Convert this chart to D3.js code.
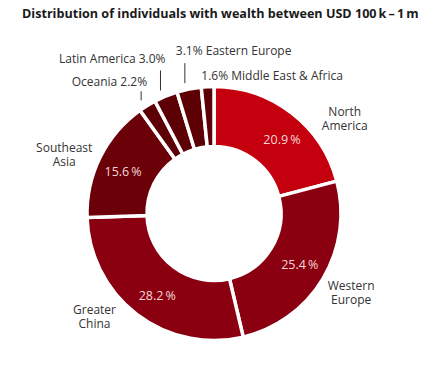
<!DOCTYPE html>
<html>
<head>
<meta charset="utf-8">
<script src="https://cdn.jsdelivr.net/npm/d3@7"></script>
<style>
  body { margin: 0; background: #fff; }
  svg { display: block; font-family: "Open Sans", sans-serif; }
</style>
</head>
<body>
<div id="chart"></div>
<script>
const regions = ["North America", "Western Europe", "Greater China", "Southeast Asia",
                 "Oceania", "Latin America", "Eastern Europe", "Middle East & Africa"];
const shares = [20.9, 25.4, 28.2, 15.6, 2.2, 3.0, 3.1, 1.6];
const labelLines = [["North", "America"], ["Western", "Europe"], ["Greater", "China"], ["Southeast", "Asia"],
                    ["Oceania 2.2%"], ["Latin America 3.0%"], ["3.1% Eastern Europe"], ["1.6% Middle East & Africa"]];
const colors = ["#c4000f", "#8b0010", "#8b0010", "#6b0008", "#5c0005", "#5c0005", "#5c0005", "#5c0005"];

const width = 447, height = 366;
const cx = 214, cy = 213.5;
const outerR = 127, innerR = 67;

const svg = d3.select("#chart").append("svg")
    .attr("width", width)
    .attr("height", height);

svg.append("text")
    .attr("x", 22)
    .attr("y", 18)
    .attr("font-size", 12.6)
    .attr("font-weight", "bold")
    .attr("fill", "#1a1a1a")
    .text("Distribution of individuals with wealth between USD 100\u2009k\u2009\u2013\u20091\u2009m");

const data = regions.map((r, i) => ({ region: r, share: shares[i], lines: labelLines[i], color: colors[i], small: shares[i] < 5 }));

const pie = d3.pie().sort(null).value(d => d.share);
const arcs = pie(data);

const arc = d3.arc().innerRadius(innerR).outerRadius(outerR);
const pctArc = d3.arc().innerRadius(100).outerRadius(100);
const outArc = d3.arc().innerRadius(160).outerRadius(160);
const edgeArc = d3.arc().innerRadius(outerR + 6).outerRadius(outerR + 6);

// rotate a slice's mid-angle a little so labels land where the original has them
const shifted = (d, s) => ({ startAngle: d.startAngle + s, endAngle: d.endAngle + s });

const g = svg.append("g").attr("transform", `translate(${cx},${cy})`);

g.selectAll("path")
    .data(arcs)
    .enter().append("path")
    .attr("d", arc)
    .attr("fill", d => d.data.color)
    .attr("stroke", "#fff")
    .attr("stroke-width", 3.5)
    .attr("stroke-linejoin", "miter");

// percentages inside the big slices
const pctNudge = { "North America": 0.09, "Greater China": -0.05, "Southeast Asia": -0.03 };
g.selectAll("text.pct")
    .data(arcs.filter(d => !d.data.small))
    .enter().append("text")
    .attr("class", "pct")
    .attr("transform", d => `translate(${pctArc.centroid(shifted(d, pctNudge[d.data.region] || 0))})`)
    .attr("text-anchor", "middle")
    .attr("dy", "0.35em")
    .attr("font-size", 12.5)
    .attr("fill", "#f6d6d6")
    .text(d => d3.format(".1f")(d.data.share) + "\u2009%");

// outer labels for big slices
const angleNudge = { "North America": 0.3, "Greater China": 0.19, "Southeast Asia": -0.1 };
arcs.filter(d => !d.data.small).forEach(d => {
    const p = outArc.centroid(shifted(d, angleNudge[d.data.region] || 0));
    const t = g.append("text")
        .attr("x", p[0])
        .attr("y", p[1] - 5.5)
        .attr("text-anchor", "middle")
        .attr("font-size", 12)
        .attr("fill", "#333");
    d.data.lines.forEach((line, i) => {
        t.append("tspan").attr("x", p[0]).attr("dy", i === 0 ? 0 : 14).text(line);
    });
});

// small slices: leader lines and one-line labels
const smallLayout = {
    "Oceania": { len: 9, anchor: "end", dx: 6, dy: -5 },
    "Latin America": { len: 20, anchor: "end", dx: 5, dy: -7 },
    "Eastern Europe": { len: 20, anchor: "start", dx: -9, dy: -8 },
    "Middle East & Africa": { len: 0, anchor: "start", dx: -3, dy: -1 }
};
arcs.filter(d => d.data.small).forEach(d => {
    const lay = smallLayout[d.data.region];
    const p = edgeArc.centroid(d);
    const x = p[0] - 3;
    const top = p[1] - lay.len;
    if (lay.len > 0) {
        g.append("line")
            .attr("x1", x).attr("x2", x)
            .attr("y1", p[1]).attr("y2", top)
            .attr("stroke", "#333")
            .attr("stroke-width", 1);
    }
    g.append("text")
        .attr("x", x + lay.dx)
        .attr("y", top + lay.dy)
        .attr("text-anchor", lay.anchor)
        .attr("font-size", 12)
        .attr("fill", "#333")
        .text(d.data.lines[0]);
});
</script>
</body>
</html>
